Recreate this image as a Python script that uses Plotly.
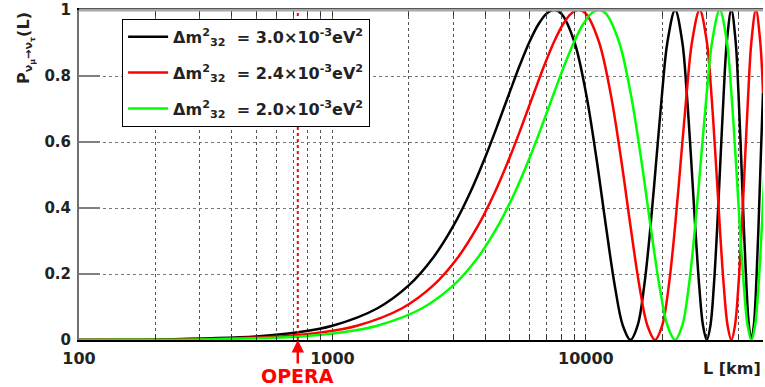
import math
import plotly.graph_objects as go

# ---------------- data ----------------
BLACK_L = [100, 200, 500, 730, 1000, 1500, 2000, 2500, 3000, 3500, 4000, 4500, 5000, 5500,
           6000, 6500, 7000, 7500, 8000, 9000, 10000, 11000, 12000, 13000, 14000, 15000,
           16000, 17000, 18000, 19000, 20000, 21000, 22500, 24000, 25000, 26000, 27000,
           28000, 29000, 30000, 31000, 32000, 33000, 34000, 35000, 36000, 37500, 39000,
           40000, 41000, 42000, 43000, 44000, 45000, 46000, 47000, 48000, 49000, 50000]
BLACK_P = [0.0004, 0.0018, 0.0109, 0.0232, 0.0432, 0.0955, 0.1654, 0.25, 0.3455, 0.4477,
           0.5523, 0.6545, 0.75, 0.8346, 0.9045, 0.9568, 0.9891, 1.0, 0.9891, 0.9045, 0.75,
           0.5523, 0.3455, 0.1654, 0.0432, 0.0, 0.0432, 0.1654, 0.3455, 0.5523, 0.75, 0.9045,
           1.0, 0.9045, 0.75, 0.5523, 0.3455, 0.1654, 0.0432, 0.0, 0.0432, 0.1654, 0.3455,
           0.5523, 0.75, 0.9045, 1.0, 0.9045, 0.75, 0.5523, 0.3455, 0.1654, 0.0432, 0.0,
           0.0432, 0.1654, 0.3455, 0.5523, 0.75]

RED_L = [100, 125, 250, 625, 912, 1250, 1875, 2500, 3125, 3750, 4375, 5000, 5625, 6250, 6875,
         7500, 8125, 8750, 9375, 10000, 11250, 12500, 13750, 15000, 16250, 17500, 18750,
         20000, 21250, 22500, 23750, 25000, 26250, 28125, 30000, 31250, 32500, 33750, 35000,
         36250, 37500, 38750, 40000, 41250, 42500, 43750, 45000, 46875, 48750, 50000]
RED_P = [0.0003, 0.0004, 0.0018, 0.0109, 0.0232, 0.0432, 0.0955, 0.1654, 0.25, 0.3455, 0.4477,
         0.5523, 0.6545, 0.75, 0.8346, 0.9045, 0.9568, 0.9891, 1.0, 0.9891, 0.9045, 0.75,
         0.5523, 0.3455, 0.1654, 0.0432, 0.0, 0.0432, 0.1654, 0.3455, 0.5523, 0.75, 0.9045,
         1.0, 0.9045, 0.75, 0.5523, 0.3455, 0.1654, 0.0432, 0.0, 0.0432, 0.1654, 0.3455,
         0.5523, 0.75, 0.9045, 1.0, 0.9045, 0.75]

GREEN_L = [100, 150, 300, 750, 1095, 1500, 2250, 3000, 3750, 4500, 5250, 6000, 6750, 7500,
           8250, 9000, 9750, 10500, 11250, 12000, 13500, 15000, 16500, 18000, 19500, 21000,
           22500, 24000, 25500, 27000, 28500, 30000, 31500, 33750, 36000, 37500, 39000,
           40500, 42000, 43500, 45000, 46500, 48000, 49500, 51000]
GREEN_P = [0.0002, 0.0004, 0.0018, 0.0109, 0.0232, 0.0432, 0.0955, 0.1654, 0.25, 0.3455,
           0.4477, 0.5523, 0.6545, 0.75, 0.8346, 0.9045, 0.9568, 0.9891, 1.0, 0.9891, 0.9045,
           0.75, 0.5523, 0.3455, 0.1654, 0.0432, 0.0, 0.0432, 0.1654, 0.3455, 0.5523, 0.75,
           0.9045, 1.0, 0.9045, 0.75, 0.5523, 0.3455, 0.1654, 0.0432, 0.0, 0.0432, 0.1654,
           0.3455, 0.5523]

SERIES_NAMES = [
    "Δm<sup>2</sup><sub>32</sub>  = 3.0×10<sup>-3</sup>eV<sup>2</sup>",
    "Δm<sup>2</sup><sub>32</sub>  = 2.4×10<sup>-3</sup>eV<sup>2</sup>",
    "Δm<sup>2</sup><sub>32</sub>  = 2.0×10<sup>-3</sup>eV<sup>2</sup>",
]
SERIES_COLORS = ["#000000", "#ff0000", "#00ff00"]

X_TICKS = [100, 200, 300, 400, 500, 600, 700, 800, 900,
           1000, 2000, 3000, 4000, 5000, 6000, 7000, 8000, 9000,
           10000, 20000, 30000, 40000, 50000]
X_LABELED = {100: "100", 1000: "1000", 10000: "10000"}
Y_TICKS = [0, 0.2, 0.4, 0.6, 0.8, 1]
Y_LABELS = ["0", "0.2", "0.4", "0.6", "0.8", "1"]
X_RANGE = [100, 50000]
OPERA_L = 730

FONT = "DejaVu Sans"

fig = go.Figure()
for i, (xs, ys) in enumerate([(BLACK_L, BLACK_P), (RED_L, RED_P), (GREEN_L, GREEN_P)]):
    fig.add_trace(go.Scatter(
        x=xs, y=ys, mode="lines", name=SERIES_NAMES[i], legendgroup=str(i),
        line=dict(color=SERIES_COLORS[i], width=2.5, shape="spline", smoothing=1.0),
    ))

fig.add_shape(type="line", xref="x", yref="paper", x0=OPERA_L, x1=OPERA_L, y0=0, y1=1,
              line=dict(color="#ff0000", width=2, dash="dot"), layer="above")
# top frame line
fig.add_shape(type="line", xref="paper", yref="paper", x0=0, x1=1, y0=1, y1=1,
              line=dict(color="#a8a8a8", width=3), layer="above")

fig.add_annotation(x=math.log10(OPERA_L), y=0, xref="x", yref="y", text="OPERA",
                   showarrow=True, arrowhead=2, arrowsize=1, arrowwidth=2.5,
                   arrowcolor="#ff0000", ax=0, ay=36,
                   font=dict(family=FONT, size=19, color="#ff0000", weight="bold"))
fig.add_annotation(x=1, y=0, xref="paper", yref="paper", xanchor="right", yanchor="middle",
                   yshift=-28, text="L [km]", showarrow=False,
                   font=dict(family=FONT, size=16, color="#222222", weight="bold"))
fig.add_annotation(x=0, y=1, xref="paper", yref="paper", xanchor="center", yanchor="top",
                   xshift=-54, textangle=-90, showarrow=False,
                   text="P<sub>ν<sub>μ</sub>→ν<sub>τ</sub></sub>(L)",
                   font=dict(family=FONT, size=16, color="#222222", weight="bold"))

fig.update_layout(
    width=765, height=387,
    margin=dict(l=79, r=2, t=10, b=47),
    paper_bgcolor="white", plot_bgcolor="white",
    showlegend=True,
    legend=dict(x=0.063, y=0.973, xanchor="left", yanchor="top",
                bgcolor="white", bordercolor="black", borderwidth=1,
                font=dict(family=FONT, size=16, color="#222222", weight="bold"),
                tracegroupgap=12, traceorder="grouped", itemwidth=40),
    xaxis=dict(type="log", range=[math.log10(X_RANGE[0]), math.log10(X_RANGE[1])],
               tickvals=X_TICKS, ticktext=[X_LABELED.get(v, "") for v in X_TICKS],
               ticks="inside", ticklen=6, tickwidth=1, tickcolor="#333333",
               showline=True, linecolor="black", linewidth=2, mirror="ticks",
               showgrid=True, gridcolor="#555555", griddash="dot", gridwidth=1,
               zeroline=False, ticklabelstandoff=3,
               tickfont=dict(family=FONT, size=16, color="#222222", weight="bold")),
    yaxis=dict(range=[0, 1], tickvals=Y_TICKS, ticktext=Y_LABELS,
               ticks="inside", ticklen=21, tickwidth=2, tickcolor="#808080",
               showline=True, linecolor="#707070", linewidth=2,
               showgrid=True, gridcolor="#777777", griddash="dot", gridwidth=1,
               zeroline=False, ticklabelstandoff=3,
               tickfont=dict(family=FONT, size=15, color="#222222", weight="bold")),
)

fig.write_html("out.html")
